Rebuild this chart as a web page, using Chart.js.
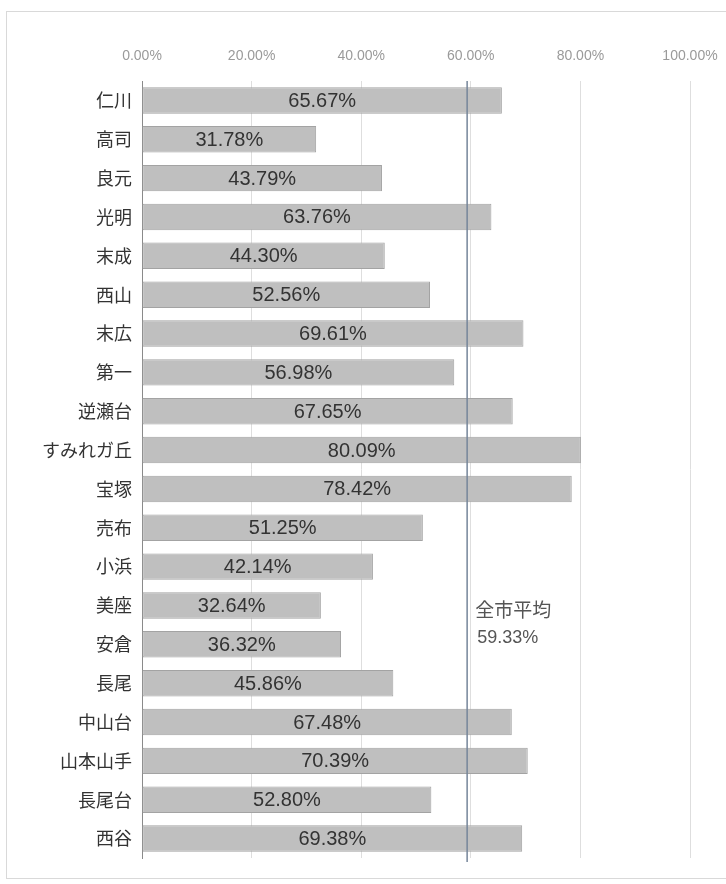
<!DOCTYPE html>
<html>
<head>
<meta charset="utf-8">
<script src="https://cdn.jsdelivr.net/npm/chart.js@4.4.1/dist/chart.umd.min.js"></script>
<style>
  body { margin: 0; background: #fff; }
  #wrap { width: 726px; height: 884px; }
</style>
</head>
<body>
<div id="wrap"><canvas id="area_chart" width="726" height="884"></canvas></div>
<script>
// 地区ごとの値 (%)
var area_labels = ["仁川", "高司", "良元", "光明", "末成", "西山", "末広", "第一", "逆瀬台", "すみれガ丘",
                   "宝塚", "売布", "小浜", "美座", "安倉", "長尾", "中山台", "山本山手", "長尾台", "西谷"];
var area_values = [65.67, 31.78, 43.79, 63.76, 44.30, 52.56, 69.61, 56.98, 67.65, 80.09,
                   78.42, 51.25, 42.14, 32.64, 36.32, 45.86, 67.48, 70.39, 52.80, 69.38];
var city_average = 59.33;
var average_label = ["全市平均", "59.33%"];
var x_ticks = [0, 20, 40, 60, 80, 100];

var jpFont = "'Noto Sans CJK JP', sans-serif";
var numFont = "'Liberation Sans', Arial, sans-serif";

// 外枠
var framePlugin = {
  id: 'frame',
  beforeDraw: function(chart) {
    var ctx = chart.ctx;
    ctx.save();
    ctx.fillStyle = '#fff';
    ctx.fillRect(0, 0, chart.width, chart.height);
    ctx.strokeStyle = '#d9d9d9';
    ctx.lineWidth = 1;
    ctx.strokeRect(6.5, 11.5, 760, 867);
    ctx.restore();
  }
};

// 棒の中の数値
var valueLabelPlugin = {
  id: 'valueLabels',
  afterDatasetsDraw: function(chart) {
    var ctx = chart.ctx;
    var meta = chart.getDatasetMeta(0);
    ctx.save();
    ctx.font = "20px " + numFont;
    ctx.fillStyle = '#333';
    ctx.textAlign = 'center';
    ctx.textBaseline = 'middle';
    for (var i = 0; i < meta.data.length; i++) {
      var bar = meta.data[i];
      var cx = (bar.base + bar.x) / 2;
      ctx.fillText(area_values[i].toFixed(2) + '%', cx, bar.y + 1);
    }
    ctx.restore();
  }
};

// 全市平均の線
var averagePlugin = {
  id: 'average',
  afterDatasetsDraw: function(chart) {
    var ctx = chart.ctx;
    var area = chart.chartArea;
    var x = chart.scales.x.getPixelForValue(city_average);
    ctx.save();
    ctx.strokeStyle = '#75859a';
    ctx.lineWidth = 1.5;
    ctx.beginPath();
    ctx.moveTo(x, area.top);
    ctx.lineTo(x, area.bottom + 4);
    ctx.stroke();
    ctx.fillStyle = '#555';
    ctx.textAlign = 'left';
    ctx.textBaseline = 'middle';
    ctx.font = "19px " + jpFont;
    ctx.fillText(average_label[0], x + 8, 610);
    ctx.font = "18px " + numFont;
    ctx.fillText(average_label[1], x + 10, 638);
    ctx.restore();
  }
};

var ctx = document.getElementById('area_chart').getContext('2d');
var chart = new Chart(ctx, {
  type: 'bar',
  data: {
    labels: area_labels,
    datasets: [
      {
        data: area_values,
        backgroundColor: '#bfbfbf',
        borderColor: '#a3a3a3',
        borderWidth: 1,
        borderSkipped: false,
        barPercentage: 0.68,
        categoryPercentage: 1
      }
    ]
  },
  options: {
    indexAxis: 'y',
    responsive: false,
    animation: false,
    layout: { padding: { left: 0, right: 36, top: 0, bottom: 26 } },
    plugins: {
      legend: { display: false },
      tooltip: { enabled: false }
    },
    scales: {
      x: {
        position: 'top',
        min: 0,
        max: 100,
        afterBuildTicks: function(scale) {
          scale.ticks = x_ticks.map(function(v) { return { value: v }; });
        },
        afterFit: function(scale) {
          scale.height = 81;
          scale.paddingLeft = 0;
          scale.paddingRight = 0;
        },
        border: { display: false },
        grid: {
          drawTicks: false,
          color: '#dedede',
          lineWidth: 1
        },
        ticks: {
          padding: 16,
          color: '#9a9a9a',
          font: { family: numFont, size: 14 },
          callback: function(v) { return Number(v).toFixed(2) + '%'; }
        }
      },
      y: {
        afterFit: function(scale) { scale.width = 142; },
        border: { display: true, color: '#8a8a8a', width: 1 },
        grid: { display: false, drawTicks: false },
        ticks: {
          padding: 10,
          color: '#333',
          font: { family: jpFont, size: 18 }
        }
      }
    }
  },
  plugins: [framePlugin, valueLabelPlugin, averagePlugin]
});
</script>
</body>
</html>
